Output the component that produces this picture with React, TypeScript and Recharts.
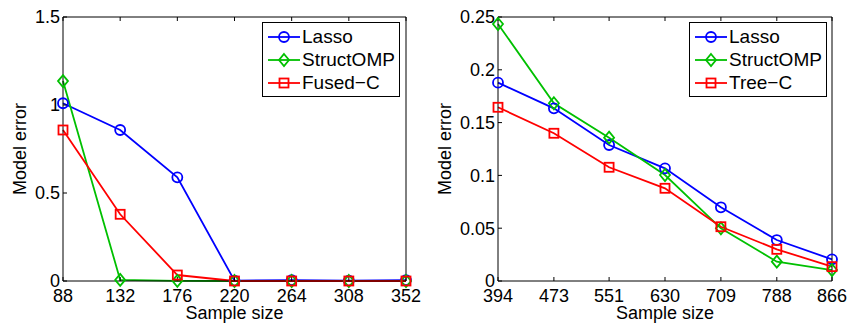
import React from 'react';
import { LineChart, Line, XAxis, YAxis, Legend, Label } from 'recharts';

// left panel
const sizesA = [88, 132, 176, 220, 264, 308, 352];
const lassoA = [1.01, 0.858, 0.589, 0.002, 0.005, 0.002, 0.005];
const structA = [1.136, 0.006, 0.001, 0.0, 0.0, 0.0, 0.0];
const fusedA = [0.858, 0.379, 0.034, 0.0, 0.0, 0.0, 0.0];
const yTicksA = [0, 0.5, 1, 1.5];

// right panel
const sizesB = [394, 473, 551, 630, 709, 788, 866];
const lassoB = [0.1878, 0.1635, 0.1288, 0.1067, 0.0698, 0.0388, 0.0205];
const structB = [0.2434, 0.1683, 0.1357, 0.1004, 0.0499, 0.0183, 0.0104];
const treeB = [0.1645, 0.1399, 0.1077, 0.0878, 0.0514, 0.030, 0.0136];
const yTicksB = [0, 0.05, 0.1, 0.15, 0.2, 0.25];

const BLUE = '#0000ff';
const GREEN = '#00c000';
const RED = '#ff0000';
const FONT = '"Liberation Sans", Arial, sans-serif';
const LW = 1.8;

type Shape = 'circle' | 'diamond' | 'square';

const Marker = ({ cx, cy, shape, color }: { cx: number; cy: number; shape: Shape; color: string }) => {
  if (shape === 'circle') return <circle cx={cx} cy={cy} r={5} fill="none" stroke={color} strokeWidth={LW} />;
  if (shape === 'diamond')
    return (
      <path
        d={`M${cx},${cy - 6}L${cx + 5},${cy}L${cx},${cy + 6}L${cx - 5},${cy}Z`}
        fill="none"
        stroke={color}
        strokeWidth={LW}
      />
    );
  return <rect x={cx - 4.5} y={cy - 4.5} width={9} height={9} fill="none" stroke={color} strokeWidth={LW} />;
};

const dotFor = (shape: Shape, color: string) => (p: any) => (
  <Marker key={`${shape}-${p.index}`} cx={p.cx} cy={p.cy} shape={shape} color={color} />
);

type Series = { name: string; color: string; shape: Shape; values: number[] };

const LegendBox = ({ series }: { series: Series[] }) => (
  <div
    style={{
      border: '1.5px solid #000',
      background: '#fff',
      width: 136,
      height: 71,
      boxSizing: 'content-box',
      fontFamily: FONT,
      fontSize: 19,
      color: '#000',
      paddingTop: 2,
    }}
  >
    {series.map((s) => (
      <div key={s.name} style={{ display: 'flex', alignItems: 'center', height: 23 }}>
        <svg width={38} height={16} style={{ flex: 'none' }}>
          <line x1={5} x2={37} y1={8} y2={8} stroke={s.color} strokeWidth={LW} />
          <Marker cx={21} cy={8} shape={s.shape} color={s.color} />
        </svg>
        <span style={{ marginLeft: 1, lineHeight: '23px' }}>{s.name}</span>
      </div>
    ))}
  </div>
);

const Panel = ({
  sizes,
  series,
  yTicks,
  yMax,
  left,
  right,
  legendLeft,
  labelX,
}: {
  sizes: number[];
  series: Series[];
  yTicks: number[];
  yMax: number;
  left: number;
  right: number;
  legendLeft: number;
  labelX: number;
}) => {
  const data = sizes.map((n, i) => {
    const row: any = { n };
    series.forEach((s) => (row[s.name] = s.values[i]));
    return row;
  });
  const tickStyle = { fill: '#000', fontSize: 18, fontFamily: FONT };
  const axisLine = { stroke: '#000', strokeWidth: 1 };
  const domainX: [number, number] = [sizes[0], sizes[sizes.length - 1]];
  return (
    <LineChart width={424} height={325} data={data} margin={{ top: 16, right: right - 1, bottom: 0, left: 0 }}>
      <XAxis
        xAxisId="b"
        dataKey="n"
        type="number"
        domain={domainX}
        ticks={sizes}
        interval={0}
        height={44}
        tickSize={-4}
        tickMargin={12}
        tick={tickStyle}
        axisLine={axisLine}
        tickLine={axisLine}
      >
        <Label
          content={() => (
            <text
              x={left + (424 - left - right) / 2}
              y={319}
              textAnchor="middle"
              fontSize={18}
              fontFamily={FONT}
              fill="#000"
            >
              Sample size
            </text>
          )}
        />
      </XAxis>
      <XAxis
        xAxisId="t"
        orientation="top"
        dataKey="n"
        type="number"
        domain={domainX}
        ticks={sizes}
        interval={0}
        height={1}
        tickSize={-4}
        tickFormatter={() => ''}
        axisLine={axisLine}
        tickLine={axisLine}
      />
      <YAxis
        yAxisId="l"
        type="number"
        domain={[0, yMax]}
        ticks={yTicks}
        interval={0}
        width={left}
        tickSize={-4}
        tickMargin={7}
        tick={tickStyle}
        tickFormatter={(v: number) => String(v)}
        axisLine={axisLine}
        tickLine={axisLine}
      >
        <Label
          content={() => (
            <text
              x={labelX}
              y={149}
              transform={`rotate(-90 ${labelX} 149)`}
              textAnchor="middle"
              dominantBaseline="central"
              fontSize={18}
              fontFamily={FONT}
              fill="#000"
            >
              Model error
            </text>
          )}
        />
      </YAxis>
      <YAxis
        yAxisId="r"
        orientation="right"
        type="number"
        domain={[0, yMax]}
        ticks={yTicks}
        interval={0}
        width={1}
        tickSize={-4}
        tickFormatter={() => ''}
        axisLine={axisLine}
        tickLine={axisLine}
      />
      {series.map((s) => (
        <Line
          key={s.name}
          xAxisId="b"
          yAxisId="l"
          type="linear"
          dataKey={s.name}
          stroke={s.color}
          strokeWidth={LW}
          dot={dotFor(s.shape, s.color)}
          activeDot={false}
          isAnimationActive={false}
        />
      ))}
      <Legend
        layout="vertical"
        align="center"
        verticalAlign="middle"
        wrapperStyle={{ left: legendLeft, top: 22, width: 139, height: 75 }}
        content={() => <LegendBox series={series} />}
      />
    </LineChart>
  );
};

const seriesA: Series[] = [
  { name: 'Lasso', color: BLUE, shape: 'circle', values: lassoA },
  { name: 'StructOMP', color: GREEN, shape: 'diamond', values: structA },
  { name: 'Fused\u2212C', color: RED, shape: 'square', values: fusedA },
];

const seriesB: Series[] = [
  { name: 'Lasso', color: BLUE, shape: 'circle', values: lassoB },
  { name: 'StructOMP', color: GREEN, shape: 'diamond', values: structB },
  { name: 'Tree\u2212C', color: RED, shape: 'square', values: treeB },
];

export default function App() {
  return (
    <div style={{ position: 'absolute', left: 0, top: 0, width: 848, height: 325, background: '#fff', display: 'flex' }}>
      <Panel sizes={sizesA} series={seriesA} yTicks={yTicksA} yMax={1.5} left={63} right={18} legendLeft={262} labelX={20} />
      <Panel sizes={sizesB} series={seriesB} yTicks={yTicksB} yMax={0.25} left={74} right={16} legendLeft={265} labelX={21} />
    </div>
  );
}
